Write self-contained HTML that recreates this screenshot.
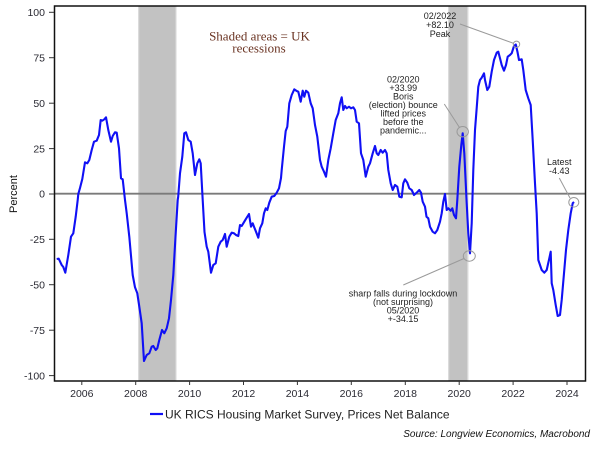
<!DOCTYPE html>
<html><head><meta charset="utf-8"><style>
html,body{margin:0;padding:0;background:#fff;}
svg{display:block;}
text{font-family:"Liberation Sans",Arial,sans-serif;}
text.serif{font-family:"Liberation Serif","DejaVu Serif",serif;}
</style></head><body>
<svg width="600" height="450" viewBox="0 0 600 450" xmlns="http://www.w3.org/2000/svg">
<rect x="0" y="0" width="600" height="450" fill="#fff"/>
<!-- recession shading -->
<rect x="138.3" y="6" width="38" height="375" fill="#c2c2c2"/>
<rect x="448.3" y="6" width="20" height="375" fill="#c2c2c2"/>
<line x1="138.8" y1="6" x2="138.8" y2="381" stroke="#d6d6d6" stroke-width="1"/>
<line x1="175.8" y1="6" x2="175.8" y2="381" stroke="#d6d6d6" stroke-width="1"/>
<line x1="448.8" y1="6" x2="448.8" y2="381" stroke="#d6d6d6" stroke-width="1"/>
<line x1="467.8" y1="6" x2="467.8" y2="381" stroke="#e0e0e0" stroke-width="1"/>
<!-- zero line -->
<line x1="55" y1="193.7" x2="585" y2="193.7" stroke="#7a7a7a" stroke-width="1.8"/>
<!-- frame -->
<rect x="54.5" y="6" width="531" height="375" fill="none" stroke="#111" stroke-width="1.5"/>
<!-- y ticks -->
<g stroke="#333" stroke-width="1">
<line x1="49" y1="12.3" x2="54" y2="12.3"/>
<line x1="49" y1="57.7" x2="54" y2="57.7"/>
<line x1="49" y1="103.2" x2="54" y2="103.2"/>
<line x1="49" y1="148.6" x2="54" y2="148.6"/>
<line x1="49" y1="194" x2="54" y2="194"/>
<line x1="49" y1="239.3" x2="54" y2="239.3"/>
<line x1="49" y1="284.7" x2="54" y2="284.7"/>
<line x1="49" y1="330.2" x2="54" y2="330.2"/>
<line x1="49" y1="375.6" x2="54" y2="375.6"/>
</g>
<g font-size="10.5" fill="#2a2a33" text-anchor="end">
<text x="45" y="16">100</text>
<text x="45" y="61.4">75</text>
<text x="45" y="106.9">50</text>
<text x="45" y="152.3">25</text>
<text x="45" y="197.7">0</text>
<text x="45" y="243">-25</text>
<text x="45" y="288.4">-50</text>
<text x="45" y="333.9">-75</text>
<text x="45" y="379.3">-100</text>
</g>
<!-- x ticks -->
<g stroke="#333" stroke-width="1">
<line x1="81.8" y1="381" x2="81.8" y2="385"/>
<line x1="135.7" y1="381" x2="135.7" y2="385"/>
<line x1="189.6" y1="381" x2="189.6" y2="385"/>
<line x1="243.5" y1="381" x2="243.5" y2="385"/>
<line x1="297.4" y1="381" x2="297.4" y2="385"/>
<line x1="351.3" y1="381" x2="351.3" y2="385"/>
<line x1="405.3" y1="381" x2="405.3" y2="385"/>
<line x1="459.2" y1="381" x2="459.2" y2="385"/>
<line x1="513.1" y1="381" x2="513.1" y2="385"/>
<line x1="567" y1="381" x2="567" y2="385"/>
</g>
<g font-size="10.5" fill="#2a2a33" text-anchor="middle">
<text x="81.8" y="397">2006</text>
<text x="135.7" y="397">2008</text>
<text x="189.6" y="397">2010</text>
<text x="243.5" y="397">2012</text>
<text x="297.4" y="397">2014</text>
<text x="351.3" y="397">2016</text>
<text x="405.3" y="397">2018</text>
<text x="459.2" y="397">2020</text>
<text x="513.1" y="397">2022</text>
<text x="567" y="397">2024</text>
</g>
<!-- y label -->
<text x="17" y="194" font-size="11" fill="#111" text-anchor="middle" transform="rotate(-90 17 194)">Percent</text>
<!-- series -->
<polyline fill="none" stroke="#1010f5" stroke-width="2.1" stroke-linejoin="round" points="
56.7,259 58.7,258.7 61.7,265 63.3,267 65.3,272.7 68.3,255 71,236.7 73.3,233.3 75.7,216.7 77.7,200 78.3,194 80,188 82.3,179 85,162.3 87.3,163.3 89.3,160 91.7,150 94,141.7 96.7,140.7 99,135 100.7,120 102.3,120.7 104.3,119.3 106,117.3 108.3,130 111,141.7 112.7,136 115,132.3 116.7,132.7 119,148.3 121,178.3 122.7,179.3 125,200 126.7,213.3 129.3,236.7 132.7,275 135,287.3 137.3,293.3 139.3,306.7 141.7,323.3 144,361 146.7,355 149.3,353.3 151.7,346.7 153.3,346 155.7,350 157.3,348.3 159.3,340 162,330 164.3,333.3 166.7,328.3 169,318.3 171,300 173.3,275 175.7,233.3 177.7,200 178.2,196.7 180,173.3 182.3,156.7 184.3,133.3 186,132.3 188.3,140 190.7,141.7 192.7,153.3 195,175 197.3,163.3 199.3,159.3 200.7,163.3 202.7,200 204.5,232 206.7,246.7 208.3,251.7 211,272.7 213.3,265 215.7,263.3 218.3,246.7 220.7,241.7 222.7,240 225,234 226.7,246.7 229.3,236.7 231.7,232.7 234,233.3 236,235 238.3,236 240,225 241.7,226 243.3,223.3 245.7,219.3 249,214 251,226.7 252.7,223.3 254,226.7 256,231.7 258.3,237.7 260,228.3 262.3,223.3 264,213.3 265.7,208.3 267.3,210 269.3,202.7 271.7,196.7 274.3,196 276.7,192.7 279,188.3 281,178 281.7,170 284,146.7 285.7,131 287.3,126.7 289.3,103.3 291.7,95 294.3,89.3 296.7,91 298.3,91.7 300.7,101.7 302.7,90.7 304.3,96.7 306,90.7 308.3,92.7 310.7,103.3 312.7,108.3 315,125 317.3,136.7 320,160 321.7,166.7 324,171.7 326,176.7 328.3,160 330.7,148.3 333.3,133.3 335.7,120 338.3,113.3 340,103.3 341.7,97.3 343.3,110 345,106 346.7,108.3 349,106.7 351,108.3 353.3,107.3 355,110 356.7,121.7 359,123.3 361,153.3 363.3,160 365.7,176.7 368.3,166.7 370,163.3 372.7,153.3 375,146 376.7,153.3 378.3,155 380.7,150 382.7,152.7 385,150 386.7,153.3 388.3,170 390.7,183.3 392.7,190 395,185 397.3,186.7 399.3,196.7 401.7,197.3 403.3,183.3 405,179.3 407.3,182.7 409.3,188.3 411.7,190 414,195 416.7,192.7 419.3,190 421,192.7 422.7,201.7 425,206.7 426.5,216.7 428.3,218.3 430,226.7 432.7,231.7 435,233.3 437.3,230 440,221.7 441.7,213.3 443.3,201.7 445,194 446.7,210 448.3,208.3 450.7,210.7 452.3,208.3 454,215 456,218.3 457.3,200 459.3,166.7 461.3,145 462.7,133.3 464.3,153.3 466.7,203.3 468.3,233.3 470,253.3 471.7,223.3 473.3,170 475,130 476.7,108 478.3,86.7 480,80 481.7,77.7 484,73.3 485,80 487.3,90 489.3,86.7 491.7,71.7 494,60 496.7,52.7 498.3,51.7 500,58.3 501.7,65 504,70.7 506,65 507.7,56.7 510,55 511.7,53.3 514,46 515.8,44.5 517.5,52 519,60 521.7,59.3 523.3,70 525.7,90 528.3,98.3 530.7,105 532.7,140 535,183.3 536.7,213.3 538.3,260 541.7,270 544.3,272.7 546.7,270 549.3,258.3 550.7,251.7 551.7,283.3 553.3,290 555.7,305 557.7,316 560,315 561.7,300 564,273.3 566,250 568.3,230 570.7,213.3 572.7,203.3 574,202"/>
<!-- annotation circles -->
<g fill="none" stroke="#9a9a9a" stroke-width="1">
<circle cx="516.5" cy="44.3" r="3.2"/>
<ellipse cx="462.7" cy="131.7" rx="5.7" ry="5.2"/>
<ellipse cx="469.3" cy="256" rx="6" ry="5.2"/>
<ellipse cx="573.8" cy="202.3" rx="5" ry="4.8"/>
<line x1="460" y1="24" x2="513.5" y2="43.3"/>
<line x1="444.3" y1="104" x2="459.5" y2="127.5"/>
<line x1="559.3" y1="178" x2="570" y2="198"/>
<line x1="403.3" y1="285" x2="464" y2="258.5"/>
</g>
<!-- annotation text -->
<g font-size="9" fill="#222" text-anchor="middle">
<text x="440" y="19.2">02/2022</text>
<text x="440" y="28.2">+82.10</text>
<text x="440" y="37.2">Peak</text>
<text x="403.3" y="82.5">02/2020</text>
<text x="403.3" y="91">+33.99</text>
<text x="403.3" y="99.5">Boris</text>
<text x="403.3" y="108">(election) bounce</text>
<text x="403.3" y="116.5">lifted prices</text>
<text x="403.3" y="125">before the</text>
<text x="403.3" y="133.5">pandemic...</text>
<text x="559.3" y="164.9">Latest</text>
<text x="559.3" y="173.9">-4.43</text>
<text x="403" y="296.5">sharp falls during lockdown</text>
<text x="403" y="305">(not surprising)</text>
<text x="403" y="313.5">05/2020</text>
<text x="403" y="322">+-34.15</text>
</g>
<g font-size="13" fill="#6a3322" text-anchor="middle">
<text class="serif" x="259.5" y="40.5" style="font-family:'Liberation Serif','DejaVu Serif',serif">Shaded areas = UK</text>
<text class="serif" x="259" y="52.5" style="font-family:'Liberation Serif','DejaVu Serif',serif">recessions</text>
</g>
<!-- legend -->
<line x1="150" y1="414" x2="163" y2="414" stroke="#1010f5" stroke-width="2.2"/>
<text x="165" y="418.3" font-size="12" fill="#222">UK RICS Housing Market Survey, Prices Net Balance</text>
<text x="590" y="437" font-size="10" font-style="italic" fill="#111" text-anchor="end">Source: Longview Economics, Macrobond</text>
</svg>
</body></html>
